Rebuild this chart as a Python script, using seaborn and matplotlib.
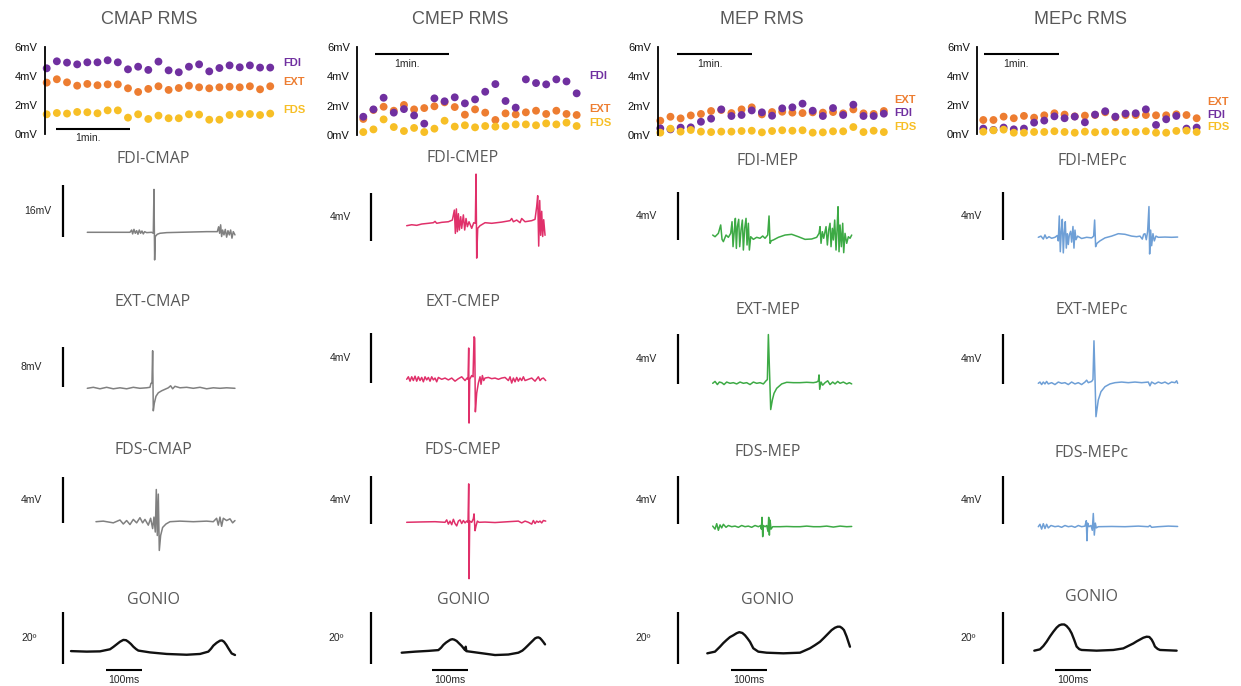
import numpy as np
import pandas as pd
import matplotlib
matplotlib.use("Agg")
import matplotlib.pyplot as plt
import seaborn as sns

sns.set_style("white")
plt.rcParams["font.family"] = ["Liberation Sans", "DejaVu Sans"]

W, H = 1241, 686
FS = 1080.0              # sampling rate of the traces (Hz)
TRIAL_INTERVAL_S = 8.2   # seconds between RMS trials
PX_PER_MS = 0.36
PX_PER_TRIAL = 10.16

# ---------------- RMS data (mV) ----------------
CMAP_FDI = [4.52, 5.0, 4.91, 4.79, 4.93, 4.93, 5.07, 4.93, 4.45, 4.63, 4.41, 4.98, 4.38, 4.25, 4.63, 4.79, 4.31, 4.54, 4.72, 4.59, 4.72, 4.57, 4.57]
CMAP_EXT = [3.54, 3.77, 3.56, 3.33, 3.45, 3.36, 3.42, 3.42, 3.15, 2.90, 3.11, 3.29, 3.04, 3.17, 3.33, 3.22, 3.15, 3.22, 3.26, 3.22, 3.29, 3.08, 3.29]
CMAP_FDS = [1.37, 1.46, 1.42, 1.53, 1.51, 1.44, 1.64, 1.64, 1.14, 1.37, 1.05, 1.28, 1.10, 1.10, 1.37, 1.35, 1.0, 1.0, 1.32, 1.39, 1.39, 1.32, 1.42]

CMEP_FDI = [1.24, 1.74, 2.53, 1.52, 1.76, 1.33, 0.77, 2.49, 2.29, 2.56, 2.15, 2.42, 2.94, 3.46, 2.31, 1.86, 3.78, 3.53, 3.44, 3.78, 3.64, 2.83]
CMEP_EXT = [1.09, 1.70, 1.92, 1.65, 2.04, 1.74, 1.83, 1.95, 2.22, 1.90, 1.38, 1.74, 1.52, 1.02, 1.47, 1.40, 1.54, 1.65, 1.43, 1.65, 1.43, 1.36]
CMEP_FDS = [0.20, 0.38, 1.06, 0.54, 0.27, 0.48, 0.20, 0.43, 0.97, 0.57, 0.66, 0.52, 0.61, 0.57, 0.61, 0.72, 0.72, 0.66, 0.79, 0.72, 0.84, 0.61]

MEP_FDI = [0.45, 0.38, 0.50, 0.52, 0.90, 1.11, 1.74, 1.29, 1.36, 1.67, 1.54, 1.31, 1.81, 1.88, 2.13, 1.65, 1.29, 1.83, 1.36, 2.06, 1.29, 1.29, 1.45]
MEP_EXT = [0.97, 1.24, 1.13, 1.33, 1.43, 1.63, 1.70, 1.49, 1.74, 1.88, 1.40, 1.56, 1.58, 1.52, 1.49, 1.54, 1.52, 1.56, 1.47, 1.74, 1.47, 1.43, 1.63]
MEP_FDS = [0.16, 0.43, 0.23, 0.34, 0.23, 0.20, 0.23, 0.23, 0.27, 0.29, 0.18, 0.27, 0.32, 0.29, 0.32, 0.16, 0.18, 0.25, 0.25, 0.54, 0.20, 0.29, 0.20]

MEPC_FDI = [0.39, 0.30, 0.46, 0.34, 0.39, 0.80, 0.94, 1.23, 1.10, 1.21, 0.82, 1.35, 1.58, 1.21, 1.42, 1.44, 1.71, 0.64, 1.03, 1.26, 0.39, 0.46]
MEPC_EXT = [0.98, 0.98, 1.21, 1.10, 1.26, 1.14, 1.30, 1.44, 1.35, 1.23, 1.28, 1.32, 1.51, 1.16, 1.32, 1.32, 1.32, 1.30, 1.30, 1.37, 1.32, 1.10]
MEPC_FDS = [0.18, 0.27, 0.32, 0.11, 0.11, 0.16, 0.16, 0.21, 0.16, 0.11, 0.18, 0.14, 0.18, 0.16, 0.16, 0.16, 0.21, 0.11, 0.11, 0.23, 0.25, 0.16]

Y_TICKS = [0, 2, 4, 6]
Y_TICK_LABELS = ["0mV", "2mV", "4mV", "6mV"]

# ---------------- Traces (sample index, value) ----------------
# CMAP column (mV)
FDI_CMAP_IDX = [0, 128, 133, 136, 140, 144, 148, 152, 156, 160, 164, 168, 172, 178, 193, 198, 200, 202, 204, 210, 218, 238, 278, 358, 390, 394, 397, 400, 403, 406, 410, 414, 418, 422, 426, 430, 434, 438, 443]
FDI_CMAP_MV = [0, 0, 0.7, -0.5, 0.9, -0.3, 0.5, -0.6, 0.7, -0.3, 0.4, -0.5, 0.2, -0.1, 0, -0.3, 13.2, -8.5, -1.3, -0.6, -0.3, -0.1, 0, 0.2, 0.2, 1.7, -0.3, 2.3, -1.3, 0.7, -0.8, 0.9, -1.5, 0.5, -0.8, 0.7, -1.8, 0.2, -0.8]
EXT_CMAP_IDX = [0, 18, 38, 58, 78, 98, 118, 138, 158, 178, 188, 191, 194, 196, 198, 201, 206, 213, 223, 233, 243, 250, 256, 263, 278, 298, 318, 338, 358, 378, 398, 418, 443]
EXT_CMAP_MV = [0, 0.2, -0.1, 0.2, -0.1, 0.1, -0.1, 0.2, 0, 0.1, 0.2, 1.0, 1.0, 7.5, -4.5, -3.0, -1.6, -0.9, -0.5, -0.2, 0.1, 0.5, -0.1, 0.4, 0.1, 0.2, 0, 0.2, -0.1, 0.1, 0, 0.1, 0]
FDS_CMAP_IDX = [26, 48, 78, 98, 108, 118, 128, 138, 148, 158, 166, 173, 183, 190, 196, 200, 204, 207, 210, 213, 216, 220, 226, 236, 248, 278, 318, 358, 378, 388, 393, 398, 403, 408, 418, 428, 436, 443]
FDS_CMAP_MV = [0, 0.05, -0.1, 0.15, -0.2, 0.1, -0.25, 0.2, -0.1, 0.35, -0.1, 0.2, -0.3, 0.3, -0.6, 0.4, -0.9, 2.8, -1.2, 2.4, -2.5, -1.2, -0.5, -0.2, 0, 0.05, 0, 0.05, 0, 0.3, -0.3, 0.4, -0.4, 0.3, 0.1, 0.25, -0.1, 0.1]
GON_CMAP_IDX = [0, 47, 87, 117, 127, 137, 147, 157, 165, 172, 180, 187, 195, 202, 237, 287, 347, 387, 412, 420, 427, 437, 447, 453, 459, 466, 472, 482, 492]
GON_CMAP_DEG = [1.5, 1.3, 1.4, 2.2, 3.1, 4.1, 5.1, 5.8, 5.7, 5.1, 4.2, 3.2, 2.3, 1.7, 1.0, 0.4, 0.1, 0.4, 1.3, 2.4, 3.6, 4.7, 5.5, 5.6, 5.1, 3.9, 2.6, 0.6, 0]

# CMEP column (mV)
FDI_CMEP_IDX = [0, 15, 30, 45, 65, 80, 85, 90, 105, 125, 137, 143, 146, 149, 152, 155, 158, 162, 165, 170, 174, 178, 182, 187, 195, 201, 206, 208, 210, 213, 220, 235, 255, 285, 310, 315, 320, 330, 340, 345, 355, 375, 385, 390, 393, 396, 399, 402, 405, 408, 411, 415]
FDI_CMEP_MV = [0, 0.08, 0.03, 0.14, 0.2, 0.25, 0.36, 0.2, 0.28, 0.33, 0.47, 1.3, -0.64, 1.4, -0.5, 1.0, -0.36, 0.75, -0.22, 0.9, -0.36, 0.6, -0.08, 0.33, -0.22, 0.25, 0.2, 4.3, -2.7, -0.22, 0, 0.25, 0.2, 0.3, 0.42, 0.6, 0.33, 0.47, 0.25, 0.6, 0.33, 0.42, 0.53, 1.6, 2.5, -1.7, 2.1, -0.8, 1.2, -0.9, 0.5, -0.8]
EXT_CMEP_IDX = [0, 5, 10, 15, 20, 25, 30, 35, 40, 45, 50, 55, 60, 65, 70, 75, 80, 85, 90, 95, 105, 115, 125, 135, 145, 155, 165, 175, 181, 184, 186, 187, 189, 195, 199, 202, 204, 206, 210, 215, 220, 223, 227, 231, 235, 245, 255, 265, 275, 285, 295, 305, 310, 315, 320, 325, 330, 335, 340, 345, 350, 355, 365, 375, 385, 395, 400, 405, 410, 417]
EXT_CMEP_MV = [0, 0.2, -0.15, 0.2, -0.1, 0.25, -0.15, 0.2, -0.1, 0.15, -0.2, 0.2, -0.05, 0.15, -0.15, 0.2, -0.05, 0.1, -0.2, 0.15, 0, 0.1, -0.05, 0.1, -0.15, 0.05, 0.2, -0.1, 0.1, 0, 2.5, -3.5, 0, 0.3, 0.2, 3.4, 3.3, -2.6, -1.1, -0.3, 0.2, -0.4, 0.3, -0.1, 0.1, 0.15, 0.05, 0.1, 0, 0.1, 0.15, -0.1, 0.2, -0.3, 0.1, -0.2, 0.15, -0.15, 0.1, -0.1, 0.2, -0.1, 0, 0.1, -0.15, 0.2, -0.1, 0.05, 0.1, -0.1]
FDS_CMEP_IDX = [0, 45, 85, 115, 120, 125, 130, 135, 140, 145, 150, 155, 160, 165, 170, 175, 180, 184, 186, 187, 189, 195, 200, 202, 205, 208, 212, 217, 235, 265, 305, 335, 345, 355, 365, 375, 380, 385, 390, 395, 400, 405, 410, 417]
FDS_CMEP_MV = [0, 0.03, 0.05, 0, 0.2, -0.15, 0.1, -0.2, 0.25, -0.1, -0.3, 0.1, 0.2, -0.1, 0.15, -0.05, 0.1, 0, 3.2, -4.7, 0.1, 0, 0.3, 0.7, -0.7, -0.3, 0.1, 0, 0.02, -0.02, 0.05, 0.1, -0.05, 0.1, 0, -0.15, 0.15, -0.1, 0.1, 0, 0.1, -0.05, 0.15, 0.1]
GON_CMEP_IDX = [0, 40, 80, 110, 118, 125, 133, 140, 146, 152, 158, 165, 172, 180, 190, 192, 194, 240, 280, 320, 350, 362, 370, 378, 385, 393, 400, 405, 410, 415, 420, 425, 430]
GON_CMEP_DEG = [1.0, 1.4, 1.7, 2.0, 2.9, 4.0, 4.9, 5.5, 6.0, 6.2, 6.0, 5.5, 4.6, 3.6, 2.0, 3.3, 1.6, 0.8, 0.1, 0.3, 1.0, 1.8, 2.7, 3.7, 4.6, 5.6, 6.5, 6.8, 6.9, 6.6, 5.9, 5.1, 4.2]

# MEP column (mV)
FDI_MEP_IDX = [0, 7, 17, 24, 28, 32, 40, 47, 54, 58, 61, 65, 68, 71, 74, 78, 81, 85, 89, 92, 96, 100, 103, 107, 110, 114, 122, 132, 142, 150, 157, 165, 169, 172, 176, 182, 197, 217, 237, 257, 277, 297, 312, 319, 322, 325, 329, 333, 340, 344, 348, 352, 355, 359, 362, 366, 370, 373, 376, 379, 382, 386, 390, 393, 397, 402, 407, 412, 417]
FDI_MEP_MV = [0.08, -0.06, 0.22, 0.92, -0.28, -0.47, 0.08, -0.11, 0.22, 1.19, -0.89, 0.5, 1.47, -1.03, 0.78, 1.39, -0.89, 0.5, 1.33, -1.17, 0.64, 1.47, -0.75, 1.06, -1.17, -0.06, -0.28, -0.11, -0.19, 0, -0.19, 0.08, 1.67, -0.61, -0.39, -0.33, -0.11, 0.08, 0.14, -0.06, -0.28, -0.25, -0.11, 0.22, 0.78, -0.61, 0.36, -0.19, 0.78, -0.75, 0.5, 1.06, -0.89, 0.64, -0.33, 1.33, -1.17, 0.5, 2.44, -1.31, 0.92, -0.89, 1.06, -1.39, 0.22, -0.61, -0.06, -0.19, 0.08]
EXT_MEP_IDX = [0, 7, 14, 20, 27, 34, 42, 52, 62, 72, 82, 92, 102, 112, 122, 132, 142, 152, 160, 164, 167, 171, 174, 179, 184, 192, 207, 222, 242, 262, 282, 302, 312, 317, 319, 321, 325, 330, 337, 345, 352, 360, 367, 375, 382, 392, 402, 410, 417]
EXT_MEP_MV = [0, 0.15, -0.1, 0.1, 0.05, -0.1, 0.1, 0, 0.05, -0.05, 0.1, 0, 0.05, -0.1, 0.1, 0, 0.05, -0.05, 0.2, 0.3, 3.9, 0.5, -2.1, -1.33, -0.8, -0.4, -0.05, 0.08, 0.05, 0.05, 0.08, 0.05, 0.1, 0.2, 0.67, -0.48, 0.1, -0.15, 0.05, 0.2, -0.1, 0.1, -0.05, 0.15, 0, 0.1, -0.05, 0.05, -0.05]
FDS_MEP_IDX = [0, 7, 12, 17, 22, 27, 32, 40, 47, 57, 67, 77, 87, 97, 107, 117, 127, 137, 144, 146, 148, 150, 152, 157, 162, 166, 168, 170, 172, 175, 180, 202, 222, 242, 262, 282, 302, 322, 342, 362, 382, 402, 417]
FDS_MEP_MV = [0.05, -0.2, 0.25, -0.3, 0.15, -0.1, 0.2, -0.05, 0.1, 0, 0.05, -0.05, 0.1, 0, 0.05, -0.05, 0.1, 0, 0.1, -0.2, 0.78, -0.83, 0.1, 0, 0.1, -0.4, 0.78, -0.7, 0.55, -0.2, 0, 0, 0.02, 0, 0, 0.05, 0, 0, 0.05, -0.03, 0.05, 0, 0.02]
GON_MEP_IDX = [0, 23, 38, 48, 58, 68, 78, 88, 96, 105, 113, 120, 128, 138, 153, 178, 228, 278, 308, 323, 338, 350, 363, 373, 383, 391, 398, 404, 410, 418, 428]
GON_MEP_DEG = [0.26, 0.9, 2.8, 4.2, 5.4, 6.5, 7.2, 8.0, 8.4, 8.1, 7.2, 6.1, 4.7, 2.2, 0.9, 0.5, 0.26, 0.5, 2.2, 3.4, 4.7, 6.2, 7.9, 9.2, 10.1, 10.5, 10.5, 10.0, 9.2, 6.7, 2.8]

# MEPc column (mV)
FDI_MEPC_IDX = [0, 8, 15, 20, 25, 32, 40, 50, 57, 60, 63, 66, 69, 72, 75, 78, 81, 84, 87, 90, 93, 97, 100, 104, 107, 110, 113, 118, 130, 145, 160, 166, 169, 172, 176, 185, 200, 220, 240, 260, 280, 295, 305, 312, 316, 320, 324, 328, 332, 334, 337, 340, 344, 348, 353, 360, 380, 400, 418]
FDI_MEPC_MV = [0, 0.1, -0.15, 0.2, -0.1, 0.05, -0.08, 0, 0.15, -0.3, 1.78, -1.2, 0.5, 1.5, -1.3, 0.4, 1.3, -0.9, 0.3, -0.6, 0.2, 0.5, -0.4, 0.9, -0.9, 0.6, -0.2, 0.1, -0.1, 0, -0.05, 0.1, 1.44, -0.78, -0.5, -0.3, -0.05, 0.1, 0.3, 0.25, 0.1, 0.05, 0.1, -0.15, 0.25, 0.3, -0.2, 0.5, 2.56, -1.39, 0.6, -0.7, 0.3, -0.3, 0.1, 0, 0.02, 0, 0.02]
EXT_MEPC_IDX = [0, 5, 10, 15, 20, 25, 30, 40, 50, 60, 70, 80, 90, 100, 110, 120, 130, 140, 145, 150, 155, 160, 164, 167, 170, 173, 180, 188, 200, 215, 230, 250, 270, 290, 310, 330, 335, 340, 350, 360, 370, 380, 390, 400, 410, 415, 418]
EXT_MEPC_MV = [0, 0.1, -0.1, 0.1, -0.05, 0.15, -0.05, 0.05, -0.1, 0.1, 0, 0.05, -0.1, 0.1, -0.05, 0.05, -0.1, 0.1, 0.25, 0.05, 0.1, 0.15, 0.3, 3.4, 0.5, -2.67, -1.33, -0.67, -0.27, -0.05, 0.05, 0.1, 0.05, 0.1, 0.05, 0.1, -0.2, 0.1, -0.05, 0.1, 0, 0.1, -0.05, 0.1, 0.05, 0.2, 0]
FDS_MEPC_IDX = [0, 5, 10, 15, 20, 25, 30, 38, 50, 60, 70, 80, 90, 100, 110, 120, 130, 140, 144, 146, 148, 152, 158, 162, 165, 168, 171, 174, 180, 220, 260, 300, 330, 335, 340, 360, 390, 418]
FDS_MEPC_MV = [0, 0.2, -0.2, 0.25, -0.15, 0.2, -0.1, 0.1, 0, 0.05, -0.05, 0.1, 0, 0.05, -0.05, 0.1, 0, 0.05, 0.5, -1.17, 0.3, 0, 0.1, -0.3, 1.1, -0.7, 0.3, -0.1, 0, 0.02, 0, 0.05, 0, 0.1, -0.05, 0, 0.05, 0.02]
GON_MEPC_IDX = [0, 17, 27, 37, 47, 57, 67, 75, 82, 90, 97, 105, 112, 120, 127, 135, 142, 187, 237, 267, 297, 307, 317, 327, 337, 345, 352, 357, 362, 370, 377, 427]
GON_MEPC_DEG = [0.13, 0.64, 1.9, 3.6, 5.6, 7.4, 9.0, 9.9, 10.2, 10.2, 9.6, 8.4, 6.8, 4.2, 1.7, 0.7, 0.4, 0.13, 0.4, 1.0, 2.9, 3.7, 4.4, 5.1, 5.5, 5.4, 4.4, 3.2, 1.7, 0.8, 0.4, 0.13]

# ---------------- Styling ----------------
PALETTE = {"FDI": "#7030A0", "EXT": "#ED7D31", "FDS": "#F7BF26"}
TITLE_GRAY = "#595959"
TRACE_FONT = ["Open Sans", "DejaVu Sans"]

fig = plt.figure(figsize=(W / 100, H / 100), dpi=100)


def axes_px(x0, y0, x1, y1):
    ax = fig.add_axes([x0 / W, 1 - y1 / H, (x1 - x0) / W, (y1 - y0) / H])
    ax.set_facecolor("none")
    return ax


def ftext(x, y, s, **kw):
    fig.text(x / W, 1 - y / H, s, **kw)


def rms_panel(title, title_x, fdi, ext, fds, spine_x, first_x, y0_px, y6_px,
              label_x, label_y, bar_x, bar_y, bar_text):
    pxmv = (y0_px - y6_px) / 6.0
    box = (spine_x, 36, spine_x + 280, 150)
    ax = axes_px(*box)
    rows = []
    for name, vals in (("EXT", ext), ("FDI", fdi), ("FDS", fds)):
        rows.append(pd.DataFrame({"trial": np.arange(1, len(vals) + 1),
                                  "rms": vals, "muscle": name}))
    df = pd.concat(rows, ignore_index=True)
    sns.scatterplot(data=df, x="trial", y="rms", hue="muscle", palette=PALETTE,
                    s=32, linewidth=0, legend=False, ax=ax)
    for c in ax.collections:
        c.set_clip_on(False)
    ax.set_xlim(1 - (first_x - box[0]) / PX_PER_TRIAL, 1 + (box[2] - first_x) / PX_PER_TRIAL)
    ax.set_ylim((y0_px - box[3]) / pxmv, (y0_px - box[1]) / pxmv)
    for s in ("top", "right", "bottom"):
        ax.spines[s].set_visible(False)
    ax.spines["left"].set_bounds(0, 6)
    ax.spines["left"].set_linewidth(1.3)
    ax.spines["left"].set_color("black")
    ax.set_yticks(Y_TICKS)
    ax.set_yticklabels(Y_TICK_LABELS)
    ax.set_xticks([])
    ax.tick_params(axis="y", length=0, pad=5, labelsize=8, labelcolor="#111111")
    ax.set_xlabel("")
    ax.set_ylabel("")
    # 1-minute scale bar
    t1 = 1 + (bar_x - first_x) / PX_PER_TRIAL
    vb = (y0_px - bar_y) / pxmv
    ax.plot([t1, t1 + 60.0 / TRIAL_INTERVAL_S], [vb, vb], color="black", lw=1.5,
            clip_on=False, solid_capstyle="butt")
    ftext(bar_text[0], bar_text[1], "1min.", ha="center", va="center", fontsize=7.5)
    for name in ("FDI", "EXT", "FDS"):
        ftext(label_x, label_y[name], name, ha="left", va="center", fontsize=8,
              fontweight="bold", color=PALETTE[name])
    ftext(title_x, 20, title, ha="center", va="center", fontsize=13, color=TITLE_GRAY)


def trace_panel(idx, vals, color, lw, t0_px, v0_px, pxu, col_x0, col_x1):
    box = (col_x0, v0_px - 95, col_x1, v0_px + 70)
    ax = axes_px(*box)
    t = np.asarray(idx, dtype=float) / FS * 1000.0
    sns.lineplot(x=t, y=np.asarray(vals, dtype=float), ax=ax, color=color,
                 linewidth=lw, estimator=None, sort=False, legend=False)
    ax.set_xlim((box[0] - t0_px) / PX_PER_MS, (box[2] - t0_px) / PX_PER_MS)
    ax.set_ylim((v0_px - box[3]) / pxu, (v0_px - box[1]) / pxu)
    ax.set_axis_off()
    return ax


def scale_bar(ax, t0_px, v0_px, pxu, bar_x, bar_bottom, value, label, label_x):
    tb = (bar_x - t0_px) / PX_PER_MS
    vb = (v0_px - bar_bottom) / pxu
    ax.plot([tb, tb], [vb, vb + value], color="black", lw=1.6, clip_on=False,
            solid_capstyle="butt")
    ftext(label_x, bar_bottom - value * pxu / 2.0, label, ha="center", va="center",
          fontsize=7.5)


COLUMNS = [
    dict(name="CMAP", rms_title="CMAP RMS", title_x=149, rms=(CMAP_FDI, CMAP_EXT, CMAP_FDS),
         spine_x=44.5, first_x=46.7, y0=134.3, y6=46.7, label_x=283,
         label_y={"FDI": 63, "EXT": 82, "FDS": 110}, min_bar=(56, 129), min_text=(88, 138),
         x0=0, x1=310, color="#808080", emg_t0=87.3, gon_t0=71.0,
         center=153, title_y=[159, 302, 450, 600],
         traces=[(FDI_CMAP_IDX, FDI_CMAP_MV), (EXT_CMAP_IDX, EXT_CMAP_MV),
                 (FDS_CMAP_IDX, FDS_CMAP_MV), (GON_CMAP_IDX, GON_CMAP_DEG)],
         v0=[232.3, 388.3, 521.7, 655.0], pxu=[3.25, 5.0, 11.5, 2.6],
         bar_x=63, bar_bottom=[237, 387, 523, 664], scale=[16, 8, 4, 20],
         scale_lbl=["16mV", "8mV", "4mV", "20º"], lbl_x=[38, 31, 31, 29],
         ms_bar=106, ms_text=124),
    dict(name="CMEP", rms_title="CMEP RMS", title_x=460, rms=(CMEP_FDI, CMEP_EXT, CMEP_FDS),
         spine_x=356.7, first_x=363.3, y0=135, y6=46.7, label_x=589,
         label_y={"FDI": 76, "EXT": 109, "FDS": 123}, min_bar=(375, 54.3), min_text=(407, 64),
         x0=310, x1=620, color="#E0306A", emg_t0=406.7, gon_t0=401.7,
         center=463, title_y=[158, 302, 450, 600],
         traces=[(FDI_CMEP_IDX, FDI_CMEP_MV), (EXT_CMEP_IDX, EXT_CMEP_MV),
                 (FDS_CMEP_IDX, FDS_CMEP_MV), (GON_CMEP_IDX, GON_CMEP_DEG)],
         v0=[225.7, 379.3, 522.3, 655.3], pxu=[12, 12.5, 12, 2.6],
         bar_x=371, bar_bottom=[241, 383, 524, 664], scale=[4, 4, 4, 20],
         scale_lbl=["4mV", "4mV", "4mV", "20º"], lbl_x=[340, 340, 340, 336],
         ms_bar=432, ms_text=450),
    dict(name="MEP", rms_title="MEP RMS", title_x=762, rms=(MEP_FDI, MEP_EXT, MEP_FDS),
         spine_x=657.7, first_x=660.3, y0=135, y6=46.7, label_x=894,
         label_y={"EXT": 100, "FDI": 113, "FDS": 127}, min_bar=(677.3, 54.3), min_text=(710, 64),
         x0=620, x1=930, color="#3DAA45", emg_t0=712.7, gon_t0=707.3,
         center=768, title_y=[161, 310, 452, 600],
         traces=[(FDI_MEP_IDX, FDI_MEP_MV), (EXT_MEP_IDX, EXT_MEP_MV),
                 (FDS_MEP_IDX, FDS_MEP_MV), (GON_MEP_IDX, GON_MEP_DEG)],
         v0=[236.0, 383.3, 526.7, 654.0], pxu=[12, 12.5, 12, 2.6],
         bar_x=678, bar_bottom=[240, 384, 524, 664], scale=[4, 4, 4, 20],
         scale_lbl=["4mV", "4mV", "4mV", "20º"], lbl_x=[646, 646, 646, 643],
         ms_bar=731, ms_text=749),
    dict(name="MEPc", rms_title="MEPc RMS", title_x=1080, rms=(MEPC_FDI, MEPC_EXT, MEPC_FDS),
         spine_x=976.7, first_x=983.3, y0=134.3, y6=46.7, label_x=1207,
         label_y={"EXT": 102, "FDI": 115, "FDS": 127}, min_bar=(984.3, 54.3), min_text=(1016, 64),
         x0=930, x1=1241, color="#6E9FD6", emg_t0=1038.3, gon_t0=1034.3,
         center=1092, title_y=[161, 310, 453, 597],
         traces=[(FDI_MEPC_IDX, FDI_MEPC_MV), (EXT_MEPC_IDX, EXT_MEPC_MV),
                 (FDS_MEPC_IDX, FDS_MEPC_MV), (GON_MEPC_IDX, GON_MEPC_DEG)],
         v0=[237.3, 383.3, 526.7, 651.0], pxu=[12, 12.5, 12, 2.6],
         bar_x=1003, bar_bottom=[240, 384, 524, 664], scale=[4, 4, 4, 20],
         scale_lbl=["4mV", "4mV", "4mV", "20º"], lbl_x=[971, 971, 971, 968],
         ms_bar=1055, ms_text=1073),
]

for col in COLUMNS:
    fdi, ext, fds = col["rms"]
    rms_panel(col["rms_title"], col["title_x"], fdi, ext, fds, col["spine_x"], col["first_x"],
              col["y0"], col["y6"], col["label_x"], col["label_y"],
              col["min_bar"][0], col["min_bar"][1], col["min_text"])
    titles = ["FDI-" + col["name"], "EXT-" + col["name"], "FDS-" + col["name"], "GONIO"]
    for r in range(4):
        is_gon = r == 3
        t0 = col["gon_t0"] if is_gon else col["emg_t0"]
        idx, vals = col["traces"][r]
        ax = trace_panel(idx, vals, "#111111" if is_gon else col["color"],
                         1.7 if is_gon else 1.1, t0, col["v0"][r], col["pxu"][r],
                         col["x0"], col["x1"])
        scale_bar(ax, t0, col["v0"][r], col["pxu"][r], col["bar_x"], col["bar_bottom"][r],
                  col["scale"][r], col["scale_lbl"][r], col["lbl_x"][r])
        ftext(col["center"], col["title_y"][r], titles[r], ha="center", va="center",
              fontsize=11.5, color=TITLE_GRAY, family=TRACE_FONT)
        if is_gon:
            tb = (col["ms_bar"] - t0) / PX_PER_MS
            vb = (col["v0"][r] - 670) / col["pxu"][r]
            ax.plot([tb, tb + 100], [vb, vb], color="black", lw=1.5, clip_on=False,
                    solid_capstyle="butt")
            ftext(col["ms_text"], 680, "100ms", ha="center", va="center", fontsize=7.5)

fig.savefig("out.png", dpi=100, facecolor="white")
